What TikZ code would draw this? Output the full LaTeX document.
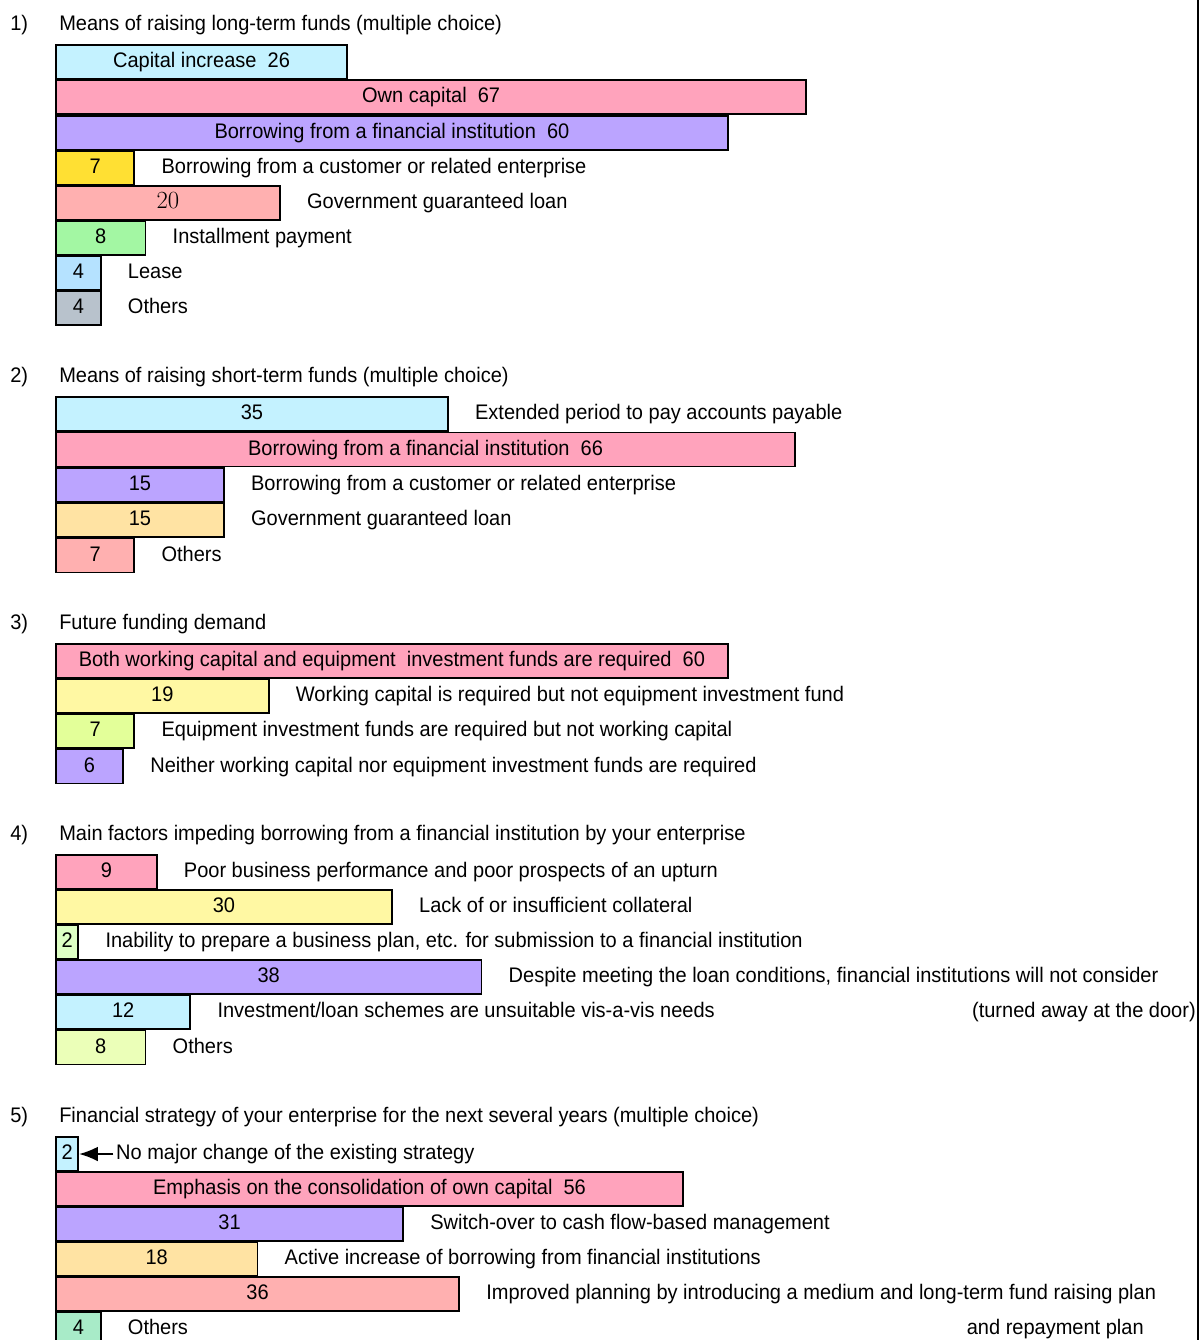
\documentclass[tikz,border=0pt]{standalone}
\usepackage{fontspec}
\setmainfont{Liberation Sans}[FakeStretch=0.95]
\newfontfamily\lmserif{Latin Modern Roman}
\usetikzlibrary{positioning,arrows.meta}

\definecolor{cyanbar}{HTML}{C4F2FF}
\definecolor{pinkbar}{HTML}{FFA3BC}
\definecolor{lavbar}{HTML}{BBA4FF}
\definecolor{yellowbar}{HTML}{FFE033}
\definecolor{salmonbar}{HTML}{FFB0B0}
\definecolor{greenbar}{HTML}{A3F7A3}
\definecolor{bluebar}{HTML}{B5E2FF}
\definecolor{graybar}{HTML}{B8C2CC}
\definecolor{orangebar}{HTML}{FFE3A3}
\definecolor{lyellowbar}{HTML}{FFF8A3}
\definecolor{ygreenbar}{HTML}{E3FF99}
\definecolor{pgreenbar}{HTML}{DDFFC4}
\definecolor{mintbar}{HTML}{A8EBC8}

\tikzset{
  bar/.style={draw,line width=1.4pt,anchor=west,inner sep=0pt,
    minimum height=25.5pt,minimum width=#1*8.4pt},
  lbl/.style={anchor=west,inner sep=0pt},
  every node/.append style={font=\fontsize{15.8pt}{18pt}\selectfont,
    text height=11.3pt,text depth=2.4pt}
}

\begin{document}
\begin{tikzpicture}[x=0.75pt,y=-0.75pt]
      \useasboundingbox (0,0) rectangle (1200,1340);
      \draw[line width=1.4pt] (1198,0) -- (1198,1340);

      % 1) long-term funds
      \node[lbl] (n1) at (10,25) {1)};
      \node[lbl] (t1) at (59,25) {Means of raising long-term funds (multiple choice)};
      \node[bar=26,fill=cyanbar] (s1b1) at (55,62) {Capital increase\ \ 26};
      \node[bar=67,fill=pinkbar] (s1b2) at (55,97) {Own capital\ \ 67};
      \node[bar=60,fill=lavbar] (s1b3) at (55,133) {Borrowing from a financial institution\ \ 60};
      \node[bar=7,fill=yellowbar] (s1b4) at (55,168) {7};
      \node[bar=20,fill=salmonbar] (s1b5) at (55,203) {\lmserif\fontsize{18.5pt}{20pt}\selectfont 20};
      \node[bar=8,fill=greenbar] (s1b6) at (55,238) {8};
      \node[bar=4,fill=bluebar] (s1b7) at (55,273) {4};
      \node[bar=4,fill=graybar] (s1b8) at (55,308) {4};
      \node[lbl,right=19.5pt of s1b4] (s1l4) {Borrowing from a customer or related enterprise};
      \node[lbl,right=19.5pt of s1b5] (s1l5) {Government guaranteed loan};
      \node[lbl,right=19.5pt of s1b6] (s1l6) {Installment payment};
      \node[lbl,right=19.5pt of s1b7] (s1l7) {Lease};
      \node[lbl,right=19.5pt of s1b8] (s1l8) {Others};

      % 2) short-term funds
      \node[lbl] (n2) at (10,377) {2)};
      \node[lbl] (t2) at (59,377) {Means of raising short-term funds (multiple choice)};
      \node[bar=35,fill=cyanbar] (s2b1) at (55,414) {35};
      \node[bar=66,fill=pinkbar] (s2b2) at (55,449.5) {Borrowing from a financial institution\ \ 66};
      \node[bar=15,fill=lavbar] (s2b3) at (55,485) {15};
      \node[bar=15,fill=orangebar] (s2b4) at (55,520) {15};
      \node[bar=7,fill=salmonbar] (s2b5) at (55,555.5) {7};
      \node[lbl,right=19.5pt of s2b1] (s2l1) {Extended period to pay accounts payable};
      \node[lbl,right=19.5pt of s2b3] (s2l3) {Borrowing from a customer or related enterprise};
      \node[lbl,right=19.5pt of s2b4] (s2l4) {Government guaranteed loan};
      \node[lbl,right=19.5pt of s2b5] (s2l5) {Others};

      % 3) future demand
      \node[lbl] (n3) at (10,624) {3)};
      \node[lbl] (t3) at (59,624) {Future funding demand};
      \node[bar=60,fill=pinkbar] (s3b1) at (55,661) {Both working capital and equipment\ \ investment funds are required\ \ 60};
      \node[bar=19,fill=lyellowbar] (s3b2) at (55,696) {19};
      \node[bar=7,fill=ygreenbar] (s3b3) at (55,731) {7};
      \node[bar=6,fill=lavbar] (s3b4) at (55,766.5) {6};
      \node[lbl,right=19.5pt of s3b2] (s3l2) {Working capital is required but not equipment investment fund};
      \node[lbl,right=19.5pt of s3b3] (s3l3) {Equipment investment funds are required but not working capital};
      \node[lbl,right=19.5pt of s3b4] (s3l4) {Neither working capital nor equipment investment funds are required};

      % 4) impeding factors
      \node[lbl] (n4) at (10,835) {4)};
      \node[lbl] (t4) at (59,835) {Main factors impeding borrowing from a financial institution by your enterprise};
      \node[bar=9,fill=pinkbar] (s4b1) at (55,872) {9};
      \node[bar=30,fill=lyellowbar] (s4b2) at (55,907) {30};
      \node[bar=2,fill=pgreenbar] (s4b3) at (55,942) {2};
      \node[bar=38,fill=lavbar] (s4b4) at (55,977) {38};
      \node[bar=12,fill=cyanbar] (s4b5) at (55,1012) {12};
      \node[bar=8,fill=ygreenbar!70!white] (s4b6) at (55,1047.5) {8};
      \node[lbl,right=19.5pt of s4b1] (s4l1) {Poor business performance and poor prospects of an upturn};
      \node[lbl,right=19.5pt of s4b2] (s4l2) {Lack of or insufficient collateral};
      \node[lbl,right=19.5pt of s4b3] (s4l3) {Inability to prepare a business plan, etc. for submission to a financial institution};
      \node[lbl,right=19.5pt of s4b4] (s4l4) {Despite meeting the loan conditions, financial institutions will not consider};
      \node[lbl,right=19.5pt of s4b5] (s4l5) {Investment/loan schemes are unsuitable vis-a-vis needs};
      \node[lbl,anchor=east] (s4l4b) at (1196,1012) {(turned away at the door)};
      \node[lbl,right=19.5pt of s4b6] (s4l6) {Others};

      % 5) financial strategy
      \node[lbl] (n5) at (10,1117) {5)};
      \node[lbl] (t5) at (59,1117) {Financial strategy of your enterprise for the next several years (multiple choice)};
      \node[bar=2,fill=cyanbar] (s5b1) at (55,1154) {2};
      \node[bar=56,fill=pinkbar] (s5b2) at (55,1189) {Emphasis on the consolidation of own capital\ \ 56};
      \node[bar=31,fill=lavbar] (s5b3) at (55,1224) {31};
      \node[bar=18,fill=orangebar] (s5b4) at (55,1259) {18};
      \node[bar=36,fill=salmonbar] (s5b5) at (55,1294) {36};
      \node[bar=4,fill=mintbar] (s5b6) at (55,1329) {4};
      \node[lbl,right=27.5pt of s5b1] (s5l1) {No major change of the existing strategy};
      \node[lbl,right=19.5pt of s5b3] (s5l3) {Switch-over to cash flow-based management};
      \node[lbl,right=19.5pt of s5b4] (s5l4) {Active increase of borrowing from financial institutions};
      \node[lbl,right=19.5pt of s5b5] (s5l5) {Improved planning by introducing a medium and long-term fund raising plan};
      \node[lbl,anchor=east] (s5l5b) at (1144,1329) {and repayment plan};
      \node[lbl,right=19.5pt of s5b6] (s5l6) {Others};

      \draw[line width=1pt,-{Latex[length=14pt,width=11pt]}] ([xshift=-2pt]s5l1.west) -- (s5b1.east);
\end{tikzpicture}
\end{document}
